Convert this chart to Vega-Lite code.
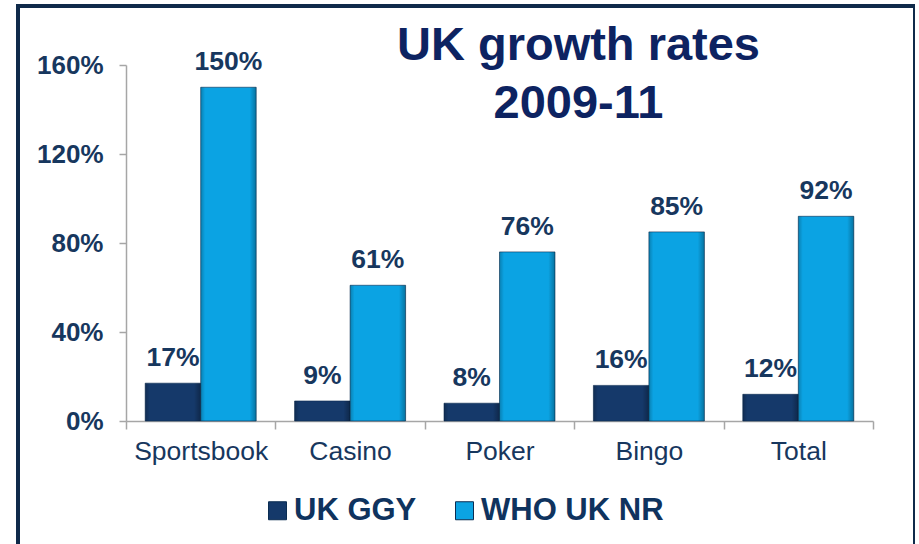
{
  "$schema": "https://vega.github.io/schema/vega-lite/v6.json",
  "width": 897,
  "height": 540,
  "autosize": {"type": "none"},
  "padding": {"left": 18, "top": 6, "right": 0, "bottom": 0},
  "background": "white",
  "config": {
    "font": "Liberation Sans",
    "view": {"stroke": "#0F2A4A", "strokeWidth": 4}
  },
  "title": {
    "text": ["UK growth rates", "2009-11"],
    "anchor": "middle",
    "frame": "group",
    "baseline": "top",
    "font": "Liberation Sans",
    "fontSize": 47,
    "fontWeight": "bold",
    "color": "#0D2361",
    "lineHeight": 58,
    "dx": 112,
    "dy": 126
  },
  "data": {
    "values": [
      {"category": "Sportsbook", "series": "UK GGY", "growth": 0.17},
      {"category": "Sportsbook", "series": "WHO UK NR", "growth": 1.5},
      {"category": "Casino", "series": "UK GGY", "growth": 0.09},
      {"category": "Casino", "series": "WHO UK NR", "growth": 0.61},
      {"category": "Poker", "series": "UK GGY", "growth": 0.08},
      {"category": "Poker", "series": "WHO UK NR", "growth": 0.76},
      {"category": "Bingo", "series": "UK GGY", "growth": 0.16},
      {"category": "Bingo", "series": "WHO UK NR", "growth": 0.85},
      {"category": "Total", "series": "UK GGY", "growth": 0.12},
      {"category": "Total", "series": "WHO UK NR", "growth": 0.92}
    ]
  },
  "encoding": {
    "x": {
      "field": "category",
      "type": "nominal",
      "sort": ["Sportsbook", "Casino", "Poker", "Bingo", "Total"],
      "scale": {"range": [108, 855], "paddingInner": 0, "paddingOuter": 0},
      "axis": {
        "title": null,
        "orient": "bottom",
        "offset": -125,
        "labelAngle": 0,
        "labelFont": "Liberation Sans",
        "labelFontSize": 26.5,
        "labelColor": "#17375E",
        "labelPadding": 9,
        "domainColor": "#A6A6A6",
        "domainWidth": 1.5,
        "tickColor": "#A6A6A6",
        "tickWidth": 1.5,
        "tickSize": 8,
        "tickBand": "extent"
      }
    },
    "xOffset": {
      "field": "series",
      "sort": ["UK GGY", "WHO UK NR"],
      "scale": {"paddingInner": 0, "paddingOuter": 0.346}
    },
    "y": {
      "field": "growth",
      "type": "quantitative",
      "scale": {"domain": [0, 1.6], "range": [415, 59], "nice": false},
      "axis": {
        "title": null,
        "orient": "left",
        "offset": -108,
        "values": [0, 0.4, 0.8, 1.2, 1.6],
        "format": ".0%",
        "grid": false,
        "labelFont": "Liberation Sans",
        "labelFontSize": 26,
        "labelFontWeight": "bold",
        "labelColor": "#17375E",
        "labelPadding": 16,
        "domainColor": "#A6A6A6",
        "domainWidth": 1.5,
        "tickColor": "#A6A6A6",
        "tickWidth": 1.5,
        "tickSize": 7
      }
    }
  },
  "layer": [
    {
      "mark": {"type": "bar", "stroke": "#0B2D52", "strokeWidth": 1, "strokeOpacity": 0.6},
      "encoding": {
        "color": {
          "field": "series",
          "type": "nominal",
          "scale": {"domain": ["UK GGY", "WHO UK NR"], "range": ["#15396A", "#0BA3E3"]},
          "legend": {
            "title": null,
            "orient": "none",
            "direction": "horizontal",
            "legendX": 244,
            "legendY": 489,
            "symbolType": "square",
            "symbolSize": 324,
            "symbolStrokeColor": "#0B2D52",
            "symbolStrokeWidth": 1,
            "labelFont": "Liberation Sans",
            "labelFontSize": 31,
            "labelFontWeight": "bold",
            "labelColor": "#0F335E",
            "labelOffset": 1,
            "columnPadding": 32,
            "labelLimit": 400
          }
        }
      }
    },
    {
      "mark": {
        "type": "bar",
        "color": {
          "gradient": "linear",
          "x1": 0, "y1": 0, "x2": 1, "y2": 0,
          "stops": [
            {"offset": 0, "color": "rgba(0,0,0,0.22)"},
            {"offset": 0.08, "color": "rgba(0,0,0,0)"},
            {"offset": 0.88, "color": "rgba(0,0,0,0)"},
            {"offset": 1, "color": "rgba(0,0,0,0.3)"}
          ]
        }
      },
      "encoding": {}
    },
    {
      "mark": {
        "type": "text",
        "baseline": "alphabetic",
        "dy": -17,
        "font": "Liberation Sans",
        "fontSize": 26.5,
        "fontWeight": "bold",
        "color": "#17375E"
      },
      "encoding": {
        "text": {"field": "growth", "type": "quantitative", "format": ".0%"}
      }
    }
  ]
}
